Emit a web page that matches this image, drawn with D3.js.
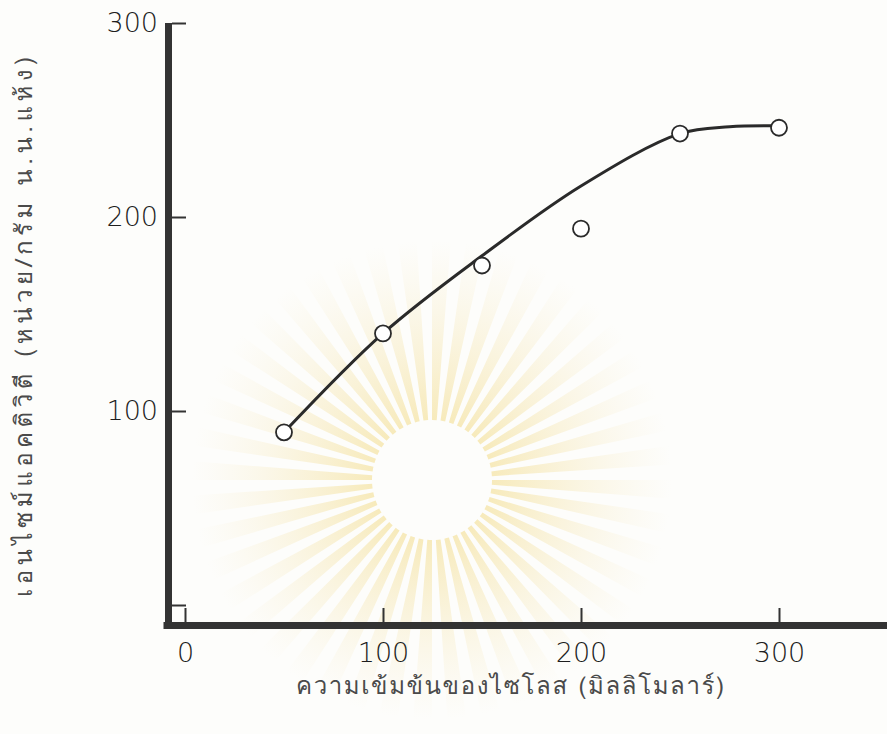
<!DOCTYPE html>
<html>
<head>
<meta charset="utf-8">
<script src="https://cdn.jsdelivr.net/npm/d3@7"></script>
<style>
  body { margin: 0; background: #fdfdfb; }
  svg { display: block; }
</style>
</head>
<body>
<div id="chart"></div>
<script>
// Measured points (xylose concentration, enzyme activity)
const concentration = [50, 100, 150, 200, 250, 300];
const activity = [89, 140, 175, 194, 243, 246];

// Hand-drawn fitted curve
const fitConcentration = [50, 100, 150, 200, 250, 275, 300];
const fitActivity = [89, 140, 180, 216, 243, 246.5, 247];

const xTicks = [0, 100, 200, 300];
const yTicks = [0, 100, 200, 300];

const xTitle = "ความเข้มข้นของไซโลส  (มิลลิโมลาร์)";
const yTitle = "เอนไซม์แอคติวิตี  (หน่วย/กรัม  น.น.แห้ง)";

const W = 887, H = 734;
const ink = "#333";
const digitFont = "'DejaVu Sans', sans-serif";
const thaiFont = "'Tlwg Typist', 'TlwgTypist', 'Loma', 'Garuda', 'Noto Sans Thai', 'Noto Sans', sans-serif";

const svg = d3.select("#chart")
    .append("svg")
    .attr("width", W)
    .attr("height", H);

// Scales
const x = d3.scaleLinear().domain([0, 300]).range([185, 779]);
const y = d3.scaleLinear().domain([0, 300]).range([605, 23]);

const axisLeftX = 168.5;   // centre of the heavy y axis bar
const axisBottomY = 625.5; // centre of the heavy x axis bar

// Faint university watermark behind the plot
const wm = svg.append("g").attr("transform", "translate(432,480)");
const grad = svg.append("defs").append("radialGradient")
    .attr("id", "wmfade")
    .attr("gradientUnits", "userSpaceOnUse")
    .attr("cx", 0).attr("cy", 0).attr("r", 240);
grad.append("stop").attr("offset", "25%").attr("stop-color", "#f5e4a6").attr("stop-opacity", 0.75);
grad.append("stop").attr("offset", "100%").attr("stop-color", "#f7eccb").attr("stop-opacity", 0);
const rays = d3.range(44);
const rayArc = d3.arc().innerRadius(60).outerRadius(240);
wm.selectAll("path")
    .data(rays)
    .enter()
    .append("path")
    .attr("d", i => rayArc({
        startAngle: (i / rays.length) * 2 * Math.PI,
        endAngle: ((i + 0.55) / rays.length) * 2 * Math.PI
    }))
    .attr("fill", "url(#wmfade)");

// Heavy axis bars
svg.append("line")
    .attr("x1", axisLeftX).attr("x2", axisLeftX)
    .attr("y1", y(300)).attr("y2", axisBottomY + 3.5)
    .attr("stroke", ink).attr("stroke-width", 7);

svg.append("line")
    .attr("x1", axisLeftX - 5).attr("x2", W)
    .attr("y1", axisBottomY).attr("y2", axisBottomY)
    .attr("stroke", ink).attr("stroke-width", 7);

// Tick marks (inside the plot)
svg.append("g")
    .attr("transform", `translate(${axisLeftX + 3.5},0)`)
    .call(d3.axisRight(y).tickValues(yTicks).tickSize(14).tickFormat(""))
    .call(g => g.select(".domain").remove())
    .call(g => g.selectAll("line").attr("stroke", ink).attr("stroke-width", 2));

svg.append("g")
    .attr("transform", `translate(0,${axisBottomY - 3.5})`)
    .call(d3.axisTop(x).tickValues(xTicks).tickSize(14).tickFormat(""))
    .call(g => g.select(".domain").remove())
    .call(g => g.selectAll("line").attr("stroke", ink).attr("stroke-width", 2));

// Tick labels
svg.append("g")
    .attr("transform", `translate(${axisLeftX - 3.5},0)`)
    .call(d3.axisLeft(y).tickValues(yTicks).tickSize(0).tickPadding(7)
        .tickFormat(d => d === 0 ? "" : d))
    .call(g => g.select(".domain").remove())
    .call(g => g.selectAll("text")
        .attr("fill", "#1e1e1e")
        .style("font-family", digitFont)
        .style("font-weight", 200)
        .style("font-size", "27px"));

svg.append("g")
    .attr("transform", `translate(0,${axisBottomY + 3.5})`)
    .call(d3.axisBottom(x).tickValues(xTicks).tickSize(0).tickPadding(14))
    .call(g => g.select(".domain").remove())
    .call(g => g.selectAll("text")
        .attr("fill", "#1e1e1e")
        .style("font-family", digitFont)
        .style("font-weight", 200)
        .style("font-size", "27px"));

// Fitted curve
const line = d3.line()
    .x((d, i) => x(fitConcentration[i]))
    .y(d => y(d))
    .curve(d3.curveCatmullRom.alpha(0.5));

svg.append("path")
    .datum(fitActivity)
    .attr("fill", "none")
    .attr("stroke", "#2a2a2a")
    .attr("stroke-width", 3)
    .attr("stroke-linecap", "round")
    .attr("d", line);

// Open circle markers
svg.selectAll("circle.pt")
    .data(activity)
    .enter()
    .append("circle")
    .attr("class", "pt")
    .attr("cx", (d, i) => x(concentration[i]))
    .attr("cy", d => y(d))
    .attr("r", 8)
    .attr("fill", "#fff")
    .attr("stroke", "#2a2a2a")
    .attr("stroke-width", 1.8);

// Axis titles
svg.append("text")
    .attr("x", 510)
    .attr("y", 694)
    .attr("text-anchor", "middle")
    .attr("textLength", 428)
    .attr("lengthAdjust", "spacing")
    .attr("fill", "#4a4a4a")
    .style("font-family", thaiFont)
    .style("font-size", "24px")
    .text(xTitle);

svg.append("text")
    .attr("text-anchor", "middle")
    .attr("transform", "translate(32,327) rotate(-90)")
    .attr("textLength", 540)
    .attr("lengthAdjust", "spacing")
    .attr("fill", "#4a4a4a")
    .style("font-family", thaiFont)
    .style("font-size", "24px")
    .text(yTitle);
</script>
</body>
</html>
